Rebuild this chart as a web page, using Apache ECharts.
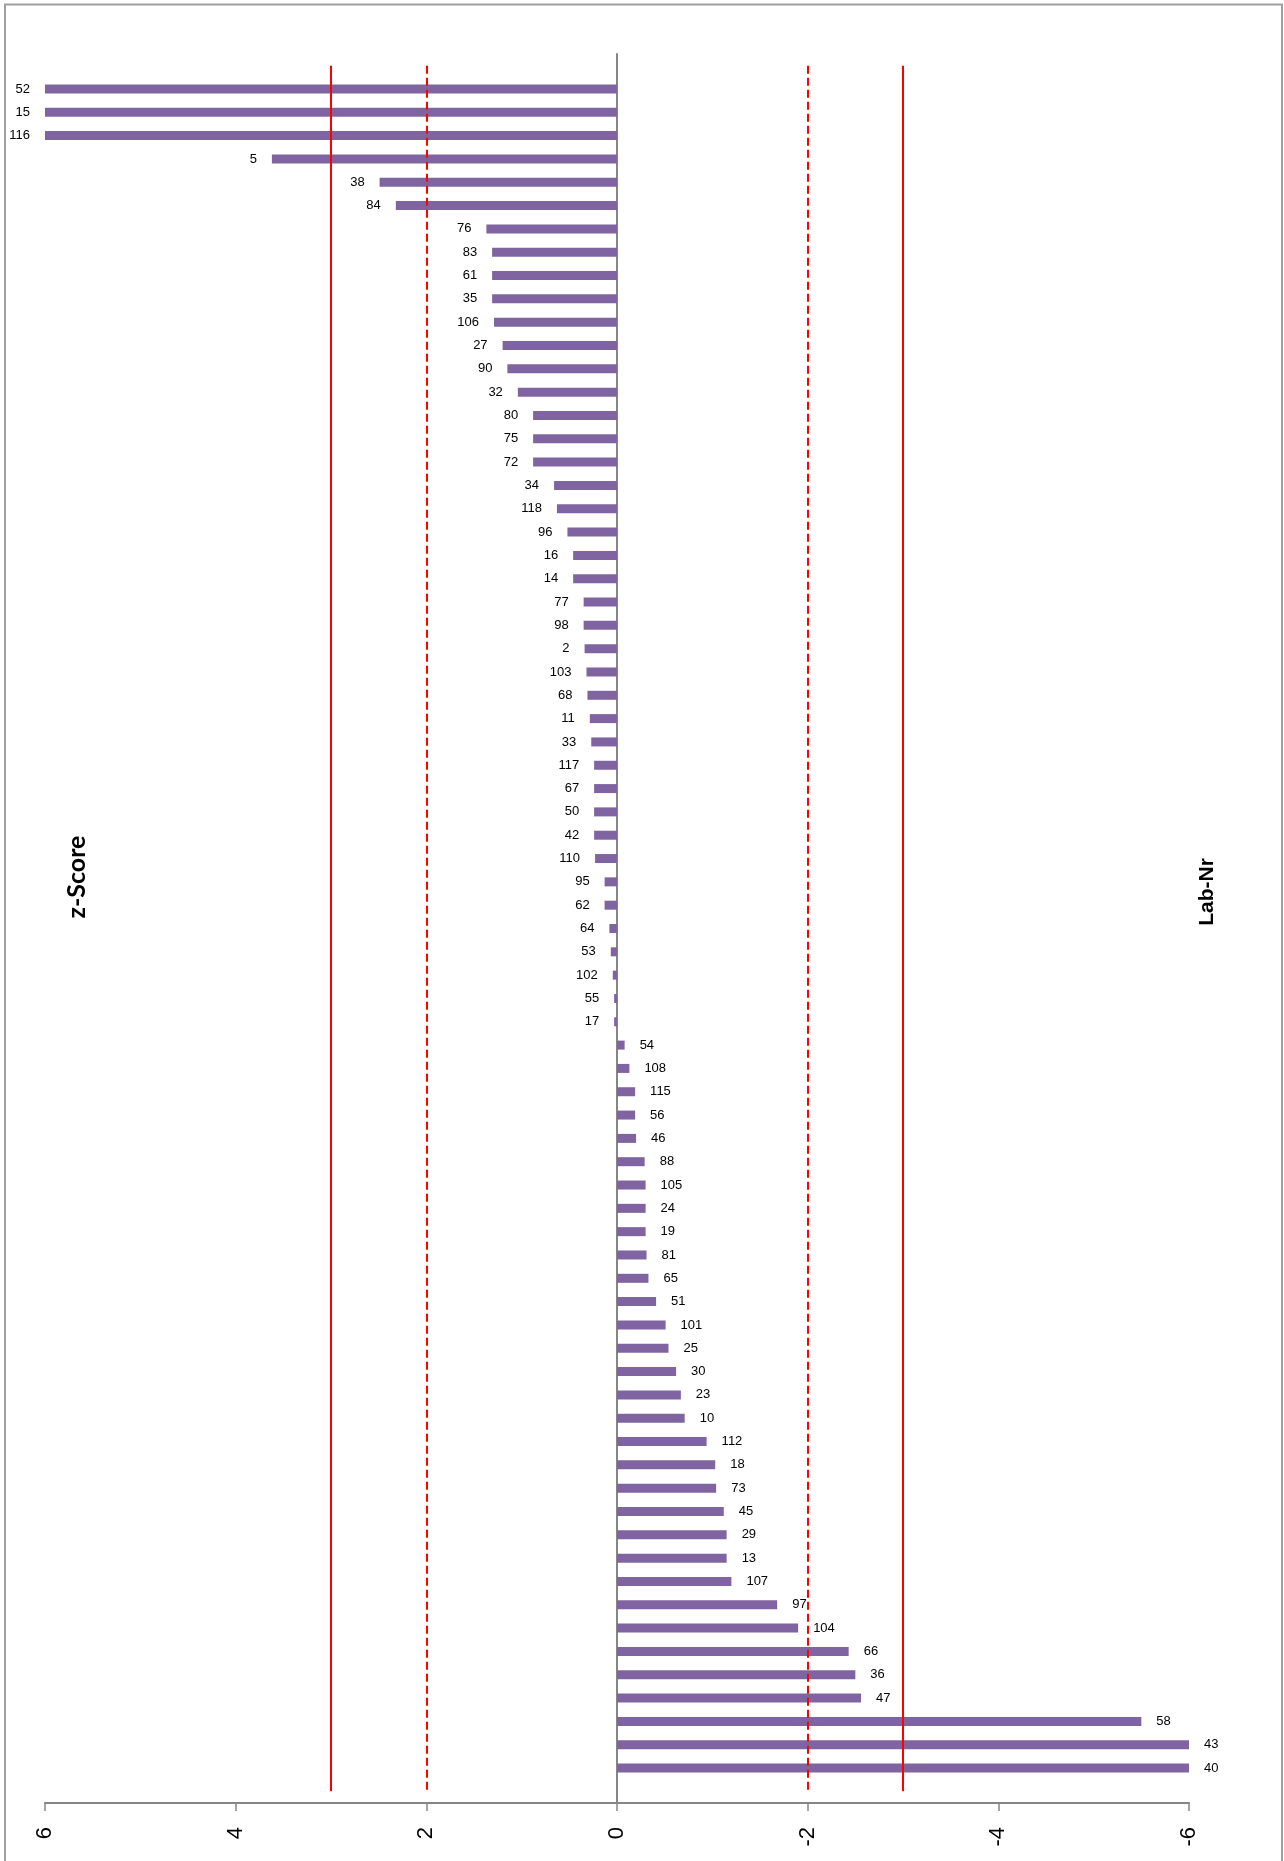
<!DOCTYPE html>
<html>
<head>
<meta charset="utf-8">
<script src="https://cdn.jsdelivr.net/npm/echarts/dist/echarts.min.js"></script>
<style>
  html, body { margin: 0; padding: 0; background: #ffffff; }
  #chart { width: 1284px; height: 1861px; }
</style>
</head>
<body>
<div id="chart"></div>
<script>
// Laboratory numbers, top to bottom
const labs = ['52','15','116','5','38','84','76','83','61','35','106','27','90','32','80','75','72','34','118','96','16','14','77','98','2','103','68','11','33','117','67','50','42','110','95','62','64','53','102','55','17','54','108','115','56','46','88','105','24','19','81','65','51','101','25','30','23','10','112','18','73','45','29','13','107','97','104','66','36','47','58','43','40'];

// z-Score of each laboratory (shown clipped at +/-6)
const zScores = [6, 6, 6, 3.62, 2.49, 2.32, 1.37, 1.31, 1.31, 1.31, 1.29, 1.20, 1.15, 1.04, 0.88, 0.88, 0.88, 0.66, 0.63, 0.52, 0.46, 0.46, 0.35, 0.35, 0.34, 0.32, 0.31, 0.285, 0.27, 0.24, 0.24, 0.24, 0.24, 0.23, 0.13, 0.13, 0.08, 0.065, 0.044, 0.03, 0.03,
  -0.08, -0.13, -0.19, -0.19, -0.20, -0.29, -0.30, -0.30, -0.30, -0.31, -0.33, -0.41, -0.51, -0.54, -0.62, -0.67, -0.71, -0.94, -1.03, -1.04, -1.12, -1.15, -1.15, -1.20, -1.68, -1.90, -2.43, -2.50, -2.56, -5.50, -6, -6];

// Axis tick values and the warning / action limits
const tickValues = [6, 4, 2, 0, -2, -4, -6];
const warningLimits = [2, -2];
const actionLimits = [3, -3];

// One empty slot above and below the bars
const categories = [' '].concat(labs, ['  ']);
const lastSlot = categories.length - 1;

const chart = echarts.init(document.getElementById('chart'), null, { renderer: 'canvas' });

const barData = [null].concat(zScores.map(v => ({
  value: v,
  label: { position: v > 0 ? 'left' : 'right' }
})), [null]);

const limitLine = (v, type) => [
  { coord: [v, 0], lineStyle: { type: type } },
  { coord: [v, lastSlot] }
];

const option = {
  animation: false,
  backgroundColor: '#ffffff',
  grid: { left: 45, right: 95, top: 54, bottom: 58, containLabel: false },
  xAxis: {
    type: 'value',
    min: -6,
    max: 6,
    interval: 2,
    inverse: true,
    position: 'bottom',
    axisLine: { show: true, onZero: false, lineStyle: { color: '#868686', width: 2 } },
    axisTick: { show: true, length: 8, lineStyle: { color: '#868686', width: 1.5 } },
    splitLine: { show: false },
    axisLabel: {
      rotate: 90,
      margin: 24,
      color: '#000000',
      fontSize: 22,
      fontFamily: '"Liberation Sans", Arial, sans-serif',
      formatter: v => tickValues.includes(v) ? String(v) : ''
    }
  },
  yAxis: {
    type: 'category',
    inverse: true,
    data: categories,
    axisLine: { show: true, onZero: true, lineStyle: { color: '#868686', width: 2 } },
    axisTick: { show: false },
    axisLabel: { show: false },
    splitLine: { show: false }
  },
  series: [{
    type: 'bar',
    data: barData,
    barWidth: 9,
    itemStyle: { color: '#8064A2' },
    label: {
      show: true,
      formatter: '{b}',
      distance: 15,
      color: '#000000',
      fontSize: 13,
      fontFamily: '"Liberation Sans", Arial, sans-serif'
    },
    markLine: {
      silent: true,
      symbol: ['none', 'none'],
      label: { show: false },
      lineStyle: { color: '#ff0000', width: 2 },
      data: actionLimits.map(v => limitLine(v, 'solid'))
        .concat(warningLimits.map(v => limitLine(v, [8, 4])))
    }
  }],
  graphic: [
    {
      type: 'rect', silent: true,
      shape: { x: 5, y: 4.5, width: 1277, height: 1900 },
      style: { fill: 'none', stroke: '#a0a0a0', lineWidth: 2 }
    },
    {
      type: 'text', silent: true,
      x: 77, y: 877, rotation: Math.PI / 2,
      style: {
        text: 'z-Score', fill: '#000000',
        font: 'bold 25px Lato, "Open Sans", sans-serif',
        align: 'center', verticalAlign: 'middle',
        textAlign: 'center', textVerticalAlign: 'middle'
      }
    },
    {
      type: 'text', silent: true,
      x: 1207, y: 892, rotation: Math.PI / 2,
      style: {
        text: 'Lab-Nr', fill: '#000000',
        font: 'bold 21px "Liberation Sans", Arial, sans-serif',
        align: 'center', verticalAlign: 'middle',
        textAlign: 'center', textVerticalAlign: 'middle'
      }
    }
  ]
};

chart.setOption(option);
</script>
</body>
</html>
